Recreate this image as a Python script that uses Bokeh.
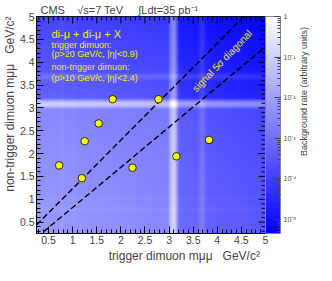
import math
import numpy as np
from bokeh.plotting import figure
from bokeh.models import (LinearColorMapper, LogColorMapper, ColorBar, FixedTicker,
                          SingleIntervalTicker, CustomJSTickFormatter, Label, LinearAxis, Title)
from bokeh.embed import file_html
from bokeh.resources import INLINE

# ---------------- data ----------------
trig_mass = [0.72, 1.19, 1.25, 1.54, 1.83, 2.24, 2.78, 3.15, 3.83]
nontrig_mass = [1.74, 1.46, 2.27, 2.66, 3.19, 1.69, 3.19, 1.94, 2.30]

# edges of the signal 5 sigma diagonal corridor: y = slope * x + offset
corridor_slope = [1.061, 0.880]
corridor_offset = [0.172, -0.060]

# background model: log10 continuum along each mass axis + resonances
cont_mass = [0.25, 1.0, 2.0, 3.0, 3.15, 4.0, 5.0]
cont_log_trig = [0.0, -0.10, -0.22, -0.38, -0.95, -1.20, -1.40]
cont_log_nontrig = [0.0, -0.10, -0.22, -0.38, -1.10, -1.45, -1.75]
bg_log_norm = -2.1
res_mass = [0.78, 1.02, 3.097, 3.686]
res_height = [0.35, 0.25, 90.0, 2.5]
res_width = [0.03, 0.025, 0.035, 0.04]

cbar_ticks = [1e-5, 1e-4, 1e-3, 1e-2, 1e-1, 1.0]
mass_lo, mass_hi = 0.25, 5.0
log_lo, log_hi = -5.35, 0.0

FONT = "Liberation Sans"
YELLOW = "#eeee00"
NB = "\u00a0"

# ---------------- background image ----------------
grid = np.linspace(mass_lo, mass_hi, 476)

def profile(m, cont):
    base = 10 ** np.interp(m, cont_mass, cont)
    peaks = np.zeros_like(m)
    for c, h, w in zip(res_mass, res_height, res_width):
        peaks += h * np.exp(-0.5 * ((m - c) / w) ** 2)
    return base * (1.0 + peaks)

ax_prof = np.log10(profile(grid, cont_log_trig))
ay_prof = np.log10(profile(grid, cont_log_nontrig))
logr = bg_log_norm + ay_prof[:, None] + ax_prof[None, :]
logr = np.clip(logr, log_lo, log_hi)

palette = []
for i in range(256):
    t = i / 255.0
    v = int(round(255 * t))
    palette.append("#%02x%02xff" % (v, v))   # index 0 = blue (low), 255 = white (high)

img_mapper = LinearColorMapper(palette=palette, low=log_lo, high=log_hi)
cb_mapper = LogColorMapper(palette=palette, low=10 ** log_lo, high=10 ** log_hi)

# ---------------- figure ----------------
p = figure(width=316, height=265, x_range=(mass_lo, mass_hi), y_range=(mass_lo, mass_hi),
           output_backend="svg", toolbar_location=None,
           min_border_left=35, min_border_right=49, min_border_top=9, min_border_bottom=0)
p.background_fill_color = "white"
p.outline_line_color = "black"
p.outline_line_width = 1
p.xgrid.visible = False
p.ygrid.visible = False

p.title.text = "CMS " + NB * 3 + "\u221as=7 TeV " + NB * 4 + "\u222bLdt=35 pb\u207b\u00b9"
p.title.text_font = FONT
p.title.text_font_size = "11px"
p.title.text_font_style = "normal"
p.title.offset = 4
p.title.standoff = 2

p.image(image=[logr], x=mass_lo, y=mass_lo, dw=mass_hi - mass_lo, dh=mass_hi - mass_lo,
        color_mapper=img_mapper)

# diagonal corridor
for s, o in zip(corridor_slope, corridor_offset):
    xs = [mass_lo, mass_hi]
    ys = [s * x + o for x in xs]
    p.line(xs, ys, line_color="black", line_width=1.4, line_dash="6 3")

# events
p.scatter(trig_mass, nontrig_mass, size=7.5, fill_color="#ffff00", line_color="black",
          line_width=0.8)

# ---------------- axes ----------------
fmt = CustomJSTickFormatter(code="return String(Math.round(tick*10)/10);")
ticker = SingleIntervalTicker(interval=0.5, num_minor_ticks=5)

for ax in (p.xaxis[0], p.yaxis[0]):
    ax.ticker = ticker
    ax.formatter = fmt
    ax.major_tick_in = 7
    ax.major_tick_out = 0
    ax.minor_tick_in = 4
    ax.minor_tick_out = 0
    ax.axis_line_color = "black"
    ax.major_tick_line_color = "black"
    ax.minor_tick_line_color = "black"
    ax.major_label_text_font = FONT
    ax.major_label_text_font_size = "10.5px"
    ax.major_label_standoff = 2

# x title: centred axis label, padded on the left so that it ends at the frame's right edge
xa = p.xaxis[0]
xa.axis_label = NB * 20 + "trigger dimuon m\u03bc\u03bc " + NB * 2 + "GeV/c\u00b2"
xa.axis_label_text_font = FONT
xa.axis_label_text_font_size = "12px"
xa.axis_label_text_font_style = "normal"
xa.axis_label_standoff = 2

# ticks on the top and right edges of the frame (ROOT style)
major_pos = [0.5 * k for k in range(1, 11)]
minor_pos = [round(0.1 * k, 2) for k in range(3, 50) if k % 5 != 0]
for pos, ln in ((major_pos, 7), (minor_pos, 4)):
    p.ray(x=pos, y=[mass_hi] * len(pos), length=ln, length_units="screen",
          angle=-math.pi / 2, line_color="black", line_width=1)
    p.ray(x=[mass_hi] * len(pos), y=pos, length=ln, length_units="screen",
          angle=math.pi, line_color="black", line_width=1)

# y title, end-aligned as in ROOT
p.add_layout(Title(text="non-trigger dimuon m\u03bc\u03bc " + NB * 2 + "GeV/c\u00b2", align="right",
                   text_font=FONT, text_font_size="12px", text_font_style="normal",
                   standoff=0, offset=0), "left")

# ---------------- colour bar ----------------
cb_fmt = CustomJSTickFormatter(code="""
const e = Math.round(Math.log10(tick));
if (e === 0) { return "1"; }
const sup = {"-": "\u207b", "0": "\u2070", "1": "\u00b9", "2": "\u00b2", "3": "\u00b3",
             "4": "\u2074", "5": "\u2075", "6": "\u2076"};
return "10" + String(e).split("").map(c => sup[c]).join("");
""")
minor = [k * 10.0 ** e for e in range(-6, 0) for k in range(2, 10)
         if 10 ** log_lo <= k * 10.0 ** e <= 1.0]
cb = ColorBar(color_mapper=cb_mapper, ticker=FixedTicker(ticks=cbar_ticks, minor_ticks=minor),
              formatter=cb_fmt, width=15, margin=2, padding=0, label_standoff=3,
              major_tick_in=6, major_tick_out=0, minor_tick_in=3, minor_tick_out=0,
              major_tick_line_color="#444444", minor_tick_line_color="#444444",
              major_label_text_font=FONT, major_label_text_font_size="7px",
              bar_line_color="#888888", border_line_color=None, background_fill_alpha=0)
p.add_layout(cb, "right")

# colour-bar title: reads bottom-to-top, starting from the lower part of the frame
lab_ax = LinearAxis(ticker=FixedTicker(ticks=[]),
                    axis_label=NB * 31 + "Background rate (arbitrary units)")
lab_ax.axis_line_color = None
lab_ax.major_tick_line_color = None
lab_ax.minor_tick_line_color = None
lab_ax.major_label_standoff = 0
lab_ax.axis_label_standoff = 4
lab_ax.axis_label_text_font = FONT
lab_ax.axis_label_text_font_size = "9px"
lab_ax.axis_label_text_font_style = "normal"
lab_ax.axis_label_orientation = math.pi / 2
if "axis_label_align" in LinearAxis.properties():
    lab_ax.axis_label_align = "start"
p.add_layout(lab_ax, "right")

# ---------------- texts in the frame ----------------
p.add_layout(Label(x=0.56, y=4.62, text="di-\u03bc + di-\u03bc + X", text_font=FONT,
                   text_font_size="11px", text_color=YELLOW, text_baseline="middle"))
info = ["trigger dimuon:", "(p>20 GeV/c, |\u03b7|<0.9)",
        "non-trigger dimuon:", "(p>10 GeV/c, |\u03b7|<2.4)"]
info_y = [4.37, 4.17, 3.89, 3.66]
for t, y in zip(info, info_y):
    p.add_layout(Label(x=0.56, y=y, text=t, text_font=FONT, text_font_size="9px",
                       text_color=YELLOW, text_baseline="middle"))

p.add_layout(Label(x=4.1, y=4.03, text="signal 5\u03c3 diagonal", text_font=FONT,
                   text_font_size="10px", text_color=YELLOW, angle=math.radians(46),
                   text_align="center", text_baseline="middle"))

open("out.html", "w").write(file_html(p, INLINE))
